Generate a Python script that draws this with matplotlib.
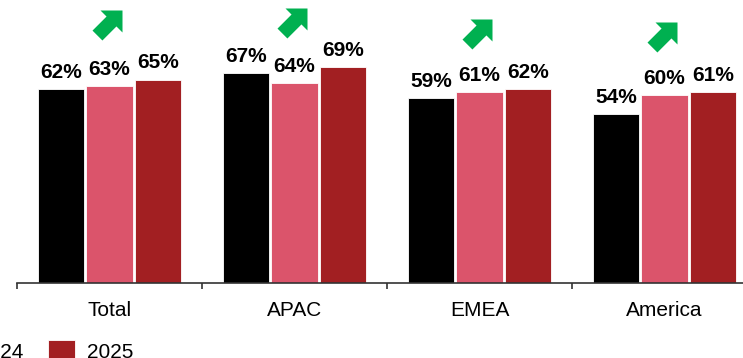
import numpy as np
import matplotlib.pyplot as plt
from matplotlib.path import Path
from matplotlib.ticker import FixedLocator

plt.rcParams['font.family'] = ['Liberation Sans', 'DejaVu Sans']

# data
regions = ['Total', 'APAC', 'EMEA', 'America']
years = ['2023', '2024', '2025']
v2023 = [62, 67, 59, 54]
v2024 = [63, 64, 61, 60]
v2025 = [65, 69, 62, 61]
colors = ['#000000', '#DB546B', '#A21F22']
green = '#00B050'

# figure, pixel based layout
W, H = 743, 358
fig = plt.figure(figsize=(W / 100, H / 100), dpi=100)
ax = fig.add_axes([17 / W, (H - 283) / H, 740 / W, 283 / H])

x = np.arange(len(regions))
width = 0.25
offsets = [-0.262, 0, 0.262]
series = [v2023, v2024, v2025]

bars = []
for vals, off, c in zip(series, offsets, colors):
    b = ax.bar(x + off, vals, width, color=c, edgecolor='white', linewidth=0.6)
    bars.append(b)
    for xi, v in zip(x + off, vals):
        ax.annotate(f'{v}%', (xi, v), xytext=(0, 8), textcoords='offset points',
                    ha='center', va='baseline', fontsize=15, fontweight='bold')

# green up-right arrows (block arrow turned 45 deg)
shape = np.array([[30, 30], [8, 30], [14.05, 23.95], [0, 9.9], [9.9, 0],
                  [23.95, 14.05], [30, 8], [30, 30]]) - 15
arrow = Path(shape, [Path.MOVETO] + [Path.LINETO] * 6 + [Path.CLOSEPOLY])
tops = [min(max(a, b, c) + 17.5, 83) for a, b, c in zip(*series)]
ax.plot(x - 0.016, tops, ls='none', marker=arrow, markersize=21.6,
        color=green, markeredgewidth=0)

ax.set_xlim(-0.5, 3.5)
ax.set_ylim(0, 283 / 3.13)
for s in ['top', 'right', 'left']:
    ax.spines[s].set_visible(False)
ax.spines['bottom'].set_color('#333333')
ax.spines['bottom'].set_linewidth(1.2)
ax.set_yticks([])
ax.xaxis.set_major_locator(FixedLocator(np.arange(-0.5, 4, 1)))
ax.xaxis.set_major_formatter(plt.NullFormatter())
ax.xaxis.set_minor_locator(FixedLocator(x))
ax.set_xticklabels(regions, minor=True)
ax.tick_params(axis='x', which='major', length=4.5, width=1.2, color='#333333')
ax.tick_params(axis='x', which='minor', length=0, pad=13, labelsize=15)

# legend is cropped on the left, like the source image
fig.legend(bars, years, loc='center left', bbox_to_anchor=(-173 / W, 7 / H),
           ncol=3, frameon=False, fontsize=15, handlelength=1.3, handleheight=1.3,
           handletextpad=0.58, columnspacing=1.2, borderpad=0, borderaxespad=0)

fig.savefig('out.png', dpi=100)
